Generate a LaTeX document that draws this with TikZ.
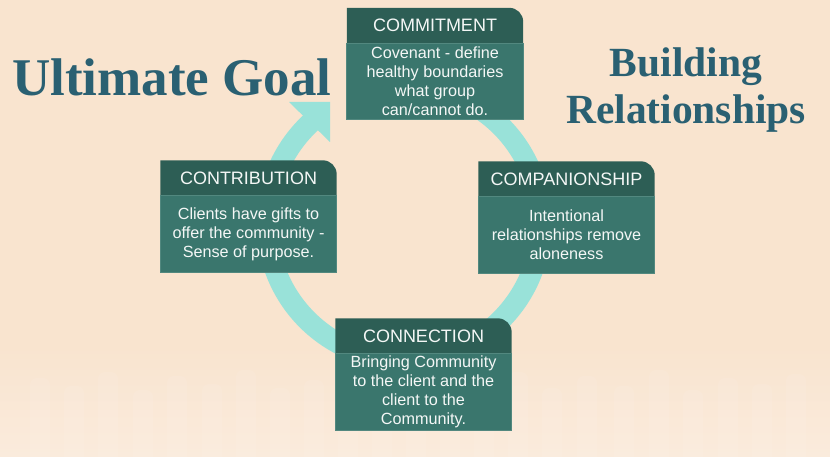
\documentclass[tikz,border=0pt]{standalone}
\usepackage{fontspec}
\setmainfont{Liberation Serif}
\setsansfont{Liberation Sans}
\pgfdeclarelayer{bgl}
\pgfdeclarelayer{ringl}
\pgfdeclarelayer{boxl}
\pgfsetlayers{bgl,ringl,boxl,main}
\definecolor{bg}{HTML}{F9E4CF}
\definecolor{bglight}{HTML}{FAEBDC}
\definecolor{hdr}{HTML}{2D5E55}
\definecolor{bodyc}{HTML}{3A766D}
\definecolor{edgec}{HTML}{52887F}
\definecolor{ringc}{HTML}{99E2D9}
\definecolor{titlec}{HTML}{2A6072}
\definecolor{txt}{HTML}{F4F7F6}
\tikzset{
  hdrtext/.style={text=txt, font=\sffamily\fontsize{18}{20}\selectfont,
    minimum width=176pt, minimum height=35pt, inner sep=0pt, anchor=center},
  bodytext/.style={text=txt, font=\sffamily\fontsize{16.2}{19}\selectfont,
    minimum width=176pt, minimum height=76pt, inner sep=0pt, align=center, anchor=north},
  goaltext/.style={text=titlec, font=\rmfamily\bfseries\fontsize{53}{60}\selectfont, inner sep=0pt},
  buildtext/.style={text=titlec, font=\rmfamily\bfseries\fontsize{41.5}{47}\selectfont, inner sep=0pt},
  ringline/.style={draw=ringc, line width=21pt},
  ringhead/.style={fill=ringc},
}
\newcommand\stagebox[5]{%
  \node[hdrtext] (#1H) at (#2,#3) {#4};
  \node[bodytext] (#1B) at (#1H.south) {#5};
  \begin{pgfonlayer}{boxl}
    \fill[hdr] (#1H.south west) -- (#1H.north west) -- ([xshift=-14pt]#1H.north east)
      arc[start angle=90, end angle=0, radius=14pt] -- (#1H.south east) -- cycle;
    \fill[bodyc] (#1B.south west) rectangle (#1B.north east);
    \draw[edgec, line width=0.8pt] (#1B.north west) -- (#1B.south west) -- (#1B.south east) -- (#1B.north east) -- cycle;
  \end{pgfonlayer}
}
\begin{document}
\begin{tikzpicture}[x=1pt,y=1pt]
\useasboundingbox (0,0) rectangle (830,456);
\begin{pgfonlayer}{bgl}
  \fill[bg] (0,0) rectangle (830,456);
  \shade[top color=bg, bottom color=bglight] (0,0) rectangle (830,110);
  \foreach \x/\h in {40/78,74/70,108/84,143/66,177/80,212/72,246/86,280/68,314/76,
                     348/70,382/82,416/66,450/78,484/72,518/84,552/68,
                     587/80,624/70,659/86,693/66,728/78,762/72,796/82}
    \fill[white, opacity=0.08, rounded corners=7pt] (\x-10,-10) rectangle (\x+10,\h);
\end{pgfonlayer}

\coordinate (ctr) at (404,233);
\begin{pgfonlayer}{ringl}
  \draw[ringline] (ctr) ++(100:137) arc[start angle=100, end angle=-229, radius=137];
  \fill[ringhead] (330,354) -- (289,354) -- (330,314) -- cycle;
\end{pgfonlayer}

\stagebox{commit}{435}{430.5}{COMMITMENT}{Covenant - define\\healthy boundaries\\what group\\can/cannot do.}
\stagebox{contrib}{248.5}{278}{CONTRIBUTION}{Clients have gifts to\\offer the community -\\Sense of purpose.}
\stagebox{compan}{566.5}{277}{COMPANIONSHIP}{Intentional\\relationships remove\\aloneness}
\stagebox{connect}{423.5}{120}{CONNECTION}{Bringing Community\\to the client and the\\client to the\\Community.}

\node[goaltext, anchor=base west] (goal) at (12,360) {Ultimate Goal};
\node[buildtext, anchor=base] (build1) at (686,379) {Building};
\node[buildtext, anchor=base] (build2) at (686,332) {Relationships};
\end{tikzpicture}
\end{document}
